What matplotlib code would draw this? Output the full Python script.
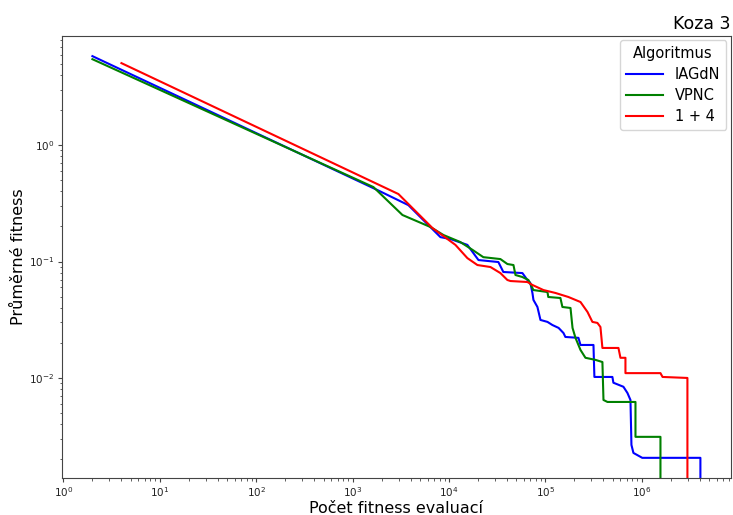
import numpy as np
import matplotlib
matplotlib.use("Agg")
import matplotlib.pyplot as plt

# IAGdN
iagdn_x = [2, 1810, 3790, 8150, 10350, 15500, 20200, 32500, 36600, 57700,
           65000, 69800, 73300, 75100, 82600, 88800, 105000, 118000, 137000, 154000,
           161000, 220000, 231000, 315000, 322000, 495000, 507000, 644000, 709000, 762000,
           780000, 818000, 1.01e6, 4.05e6, 4.05e6]
iagdn_y = [5.81, 0.411, 0.305, 0.162, 0.156, 0.139, 0.103, 0.099, 0.0813, 0.0796,
           0.0694, 0.0654, 0.0537, 0.0468, 0.0407, 0.0315, 0.0303, 0.0285, 0.0269, 0.0243,
           0.0225, 0.0221, 0.0192, 0.0192, 0.0102, 0.0102, 0.0091, 0.0084, 0.00743, 0.00647,
           0.00266, 0.00227, 0.00206, 0.00206, 0]

# VPNC
vpnc_x = [2, 1644, 3288, 6410, 8750, 13100, 17500, 22700, 34100, 40300,
          46600, 48900, 57700, 66600, 75100, 105000, 107000, 143000, 150000, 182000,
          191000, 205000, 231000, 260000, 330000, 390000, 400000, 440000, 859000, 859000,
          1.56e6, 1.56e6]
vpnc_y = [5.47, 0.436, 0.251, 0.198, 0.169, 0.147, 0.126, 0.109, 0.105, 0.0952,
          0.0933, 0.0766, 0.0736, 0.0694, 0.0569, 0.0547, 0.0496, 0.0486, 0.0407, 0.0399,
          0.0269, 0.0221, 0.0174, 0.0149, 0.0143, 0.0137, 0.00647, 0.00622, 0.00622, 0.00312,
          0.00312, 0]

# 1 + 4
es_x = [4, 2985, 3790, 6730, 11650, 15500, 19700, 26900, 34100, 40300,
        43400, 65000, 73300, 95300, 127000, 173000, 231000, 273000, 307000, 346000,
        372000, 390000, 572000, 600000, 676000, 676000, 1.56e6, 1.64e6, 2.97e6, 2.97e6]
es_y = [5.06, 0.380, 0.312, 0.194, 0.139, 0.107, 0.0933, 0.0897, 0.0796, 0.0694,
        0.068, 0.0667, 0.0629, 0.0569, 0.0537, 0.0496, 0.0449, 0.0369, 0.0303, 0.0297,
        0.0274, 0.0181, 0.0181, 0.0149, 0.0149, 0.0110, 0.0110, 0.0102, 0.0100, 0]

fig = plt.figure(figsize=(7.33, 5.15), dpi=100)
ax = fig.add_axes([0.0846, 0.072, 0.9124, 0.858])

ax.plot(iagdn_x, iagdn_y, color='blue', lw=1.5, label='IAGdN')
ax.plot(vpnc_x, vpnc_y, color='green', lw=1.5, label='VPNC')
ax.plot(es_x, es_y, color='red', lw=1.5, label='1 + 4')

ax.set_xscale('log')
ax.set_yscale('log')
ax.tick_params(which='major', length=3, width=0.8, pad=2.5, labelsize=7.5,
               colors='#444444', labelcolor='#222222')
ax.tick_params(which='minor', length=1.8, width=0.6, colors='#444444')
for s in ax.spines.values():
    s.set_color('#444444')

ax.set_xlabel('Počet fitness evaluací', fontsize=11.5, labelpad=1)
ax.set_ylabel('Průměrné fitness', fontsize=11.5, labelpad=2)
ax.set_title('Koza 3', loc='right', fontsize=12.5, pad=5)
ax.legend(title='Algoritmus', loc='upper right', fontsize=10.5, title_fontsize=10.5,
          handlelength=2.6, borderaxespad=0.3, labelspacing=0.4)

fig.savefig('out.png', dpi=100)
